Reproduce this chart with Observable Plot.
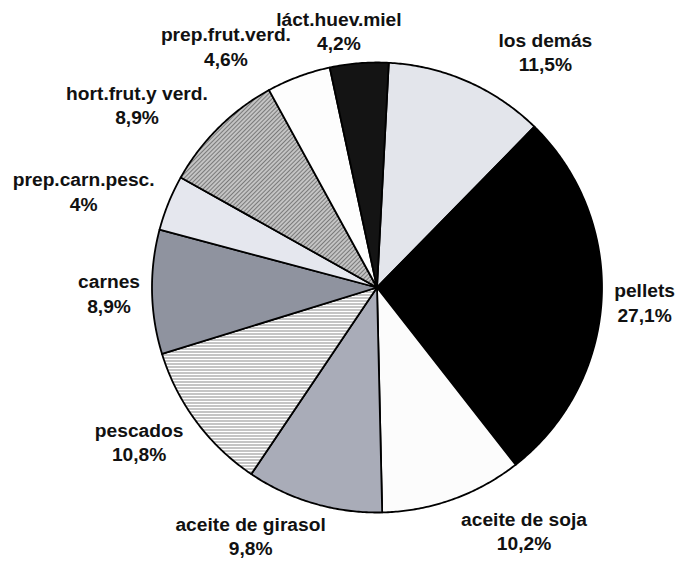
<!DOCTYPE html>
<html>
<head>
<meta charset="utf-8">
<script src="https://cdn.jsdelivr.net/npm/d3@7"></script>
<script src="https://cdn.jsdelivr.net/npm/@observablehq/plot@0.6"></script>
<style>
  html, body { margin: 0; padding: 0; background: #ffffff; }
  #chart { width: 676px; height: 561px; }
</style>
</head>
<body>
<div id="chart"></div>
<script>
// ---- data (clockwise from the top) ----
const categories = ["los demás", "pellets", "aceite de soja", "aceite de girasol", "pescados",
  "carnes", "prep.carn.pesc.", "hort.frut.y verd.", "prep.frut.verd.", "láct.huev.miel"];
const shares = [11.5, 27.1, 10.2, 9.8, 10.8, 8.9, 4, 8.9, 4.6, 4.2];
const shareLabels = ["11,5%", "27,1%", "10,2%", "9,8%", "10,8%", "8,9%", "4%", "8,9%", "4,6%", "4,2%"];

// ---- styling ----
const palette = ["#e3e5eb", "#000000", "#fcfcfc", "#a9acb8", "url(#hlines)",
  "#8f939f", "#e5e7ee", "url(#diag)", "#fdfdfd", "#141414"];

const W = 676, H = 561;
const cx = 376.5, cy = 287, R = 225;          // pie centre and radius in px
const startOffset = 3 * Math.PI / 180;        // first slice starts slightly right of 12 o'clock
const FONT = "'Liberation Sans', Arial, Helvetica, sans-serif";
const FS = 19.2, LH = 1.27;

const arcs = d3.pie().sort(null).value(d => d).startAngle(startOffset).endAngle(startOffset + 2 * Math.PI)(shares);

// slice outlines in unit-radius coordinates (x right, y up)
const slicePts = [];
arcs.forEach((a, i) => {
  const name = categories[i];
  const fill = palette[i];
  slicePts.push({name, fill, x: 0, y: 0});
  const n = Math.max(4, Math.ceil((a.endAngle - a.startAngle) / (Math.PI / 360)));
  for (let k = 0; k <= n; k++) {
    const t = a.startAngle + (a.endAngle - a.startAngle) * k / n;
    slicePts.push({name, fill, x: Math.sin(t), y: Math.cos(t)});
  }
  slicePts.push({name, fill, x: 0, y: 0});
});

// text measurement for label layout
const ctx = document.createElement("canvas").getContext("2d");
ctx.font = `bold ${FS}px ${FONT}`;

// label anchors from mid-angles, spread horizontally near top and bottom;
// side labels are pushed sideways until clear of the pie; all kept inside the frame
const labels = arcs.map((a, i) => {
  const m = (a.startAngle + a.endAngle) / 2;
  const c = Math.cos(m), s = Math.sin(m);
  let px = 268 * s * (1 + 0.8 * Math.pow(c, 4));   // px offsets from the centre
  const py = -258 * c;
  const w = Math.max(ctx.measureText(categories[i]).width, ctx.measureText(shareLabels[i]).width);
  const hw = w / 2, hh = FS * (LH + 0.75) / 2;
  const dir = s >= 0 ? 1 : -1;
  const clearOf = (x) => {
    const nx = Math.max(x - hw, Math.min(0, x + hw));
    const ny = Math.max(py - hh, Math.min(0, py + hh));
    return Math.hypot(nx, ny) >= R + 10;
  };
  if (Math.abs(s) > 0.7) {
    let guard = 0;
    while (!clearOf(px) && guard++ < 200) px += dir;
  }
  px = Math.min(px, W - cx - hw - 1);
  px = Math.max(px, -cx + hw + 1);
  return {text: categories[i] + "\n" + shareLabels[i], x: px / R, y: -py / R};
});

const plot = Plot.plot({
  width: W,
  height: H,
  margin: 0,
  x: {domain: [-cx / R, (W - cx) / R], axis: null},
  y: {domain: [(cy - H) / R, cy / R], axis: null},
  color: {type: "identity"},
  style: {fontFamily: FONT, background: "#ffffff"},
  marks: [
    Plot.line(slicePts, {x: "x", y: "y", z: "name", fill: "fill", stroke: "#000", strokeWidth: 1.8, strokeLinejoin: "round", curve: "linear"}),
    Plot.text(labels, {x: "x", y: "y", text: "text", fontSize: FS, fontWeight: "bold", lineHeight: LH, fill: "#111"})
  ]
});

// patterns for textured slices
const svg = d3.select(plot);
const defs = svg.insert("defs", ":first-child");
const h = defs.append("pattern").attr("id", "hlines").attr("patternUnits", "userSpaceOnUse").attr("width", 6).attr("height", 3);
h.append("rect").attr("width", 6).attr("height", 3).attr("fill", "#ffffff");
h.append("line").attr("x1", 0).attr("x2", 6).attr("y1", 0.5).attr("y2", 0.5).attr("stroke", "#7a7a7a").attr("stroke-width", 0.9);
const dg = defs.append("pattern").attr("id", "diag").attr("patternUnits", "userSpaceOnUse").attr("width", 3).attr("height", 3).attr("patternTransform", "rotate(45)");
dg.append("rect").attr("width", 3).attr("height", 3).attr("fill", "#c4c4c4");
dg.append("line").attr("x1", 0).attr("x2", 0).attr("y1", 0).attr("y2", 3).attr("stroke", "#5a5a5a").attr("stroke-width", 1.4);

document.getElementById("chart").appendChild(plot);
</script>
</body>
</html>
